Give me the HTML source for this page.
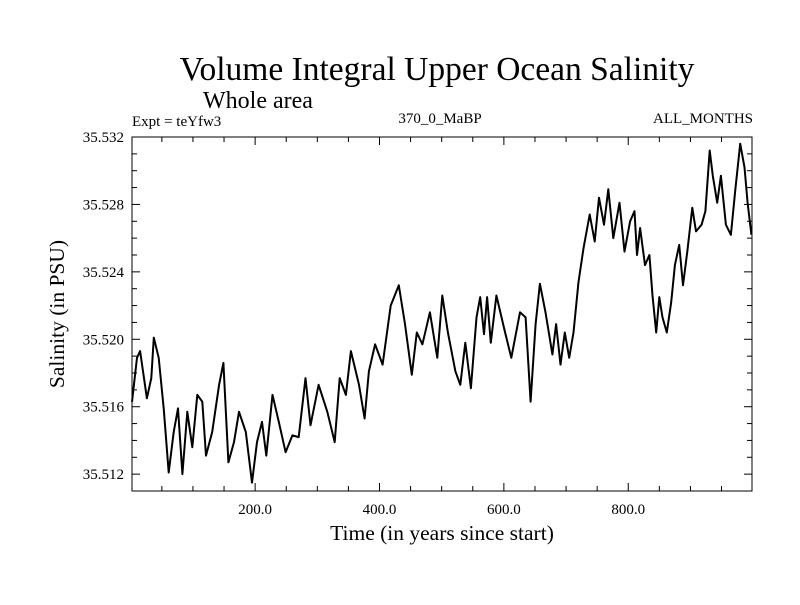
<!DOCTYPE html>
<html><head><meta charset="utf-8"><style>
body{margin:0;background:#fff;}
svg text{font-family:"Liberation Serif",serif;fill:#000;}
</style></head><body>
<svg width="800" height="600" xmlns="http://www.w3.org/2000/svg">
<text x="437" y="80" font-size="33.5" text-anchor="middle">Volume Integral Upper Ocean Salinity</text>
<text x="203" y="108" font-size="24">Whole area</text>
<text x="132" y="126" font-size="15">Expt = teYfw3</text>
<text x="440" y="123" font-size="15" text-anchor="middle">370_0_MaBP</text>
<text x="753" y="123" font-size="15" text-anchor="end">ALL_MONTHS</text>
<text x="442" y="540" font-size="21.5" text-anchor="middle">Time (in years since start)</text>
<text transform="translate(64,314) rotate(-90)" font-size="21.5" text-anchor="middle">Salinity (in PSU)</text>
<g id="axes"></g>
<path id="line" fill="none" stroke="#000" stroke-width="2" stroke-linejoin="round"></path>
<rect x="132" y="137" width="620" height="354" fill="none" stroke="#000" stroke-width="1"></rect>
</svg>
<script>
const years=[2,10,15,26,33,37,45,53,61,69,76,83,91,99,107,115,121,131,142,149,157,166,174,185,195,203,211,218,228,238,249,260,270,281,289,302,316,328,336,346,354,367,376,383,393,405,418,431,441,452,460,469,481,493,501,510,522,530,538,547,556,562,568,573,579,588,600,612,626,635,643,651,658,667,678,684,691,698,705,712,720,728,738,746,753,761,768,776,786,794,803,810,814,819,827,834,839,845,850,855,862,869,875,882,888,895,903,909,918,924,931,936,943,949,957,965,972,980,987,992,998];
const salinity=[35.5163,35.5189,35.5193,35.5165,35.5177,35.5201,35.5189,35.5159,35.5121,35.5145,35.5159,35.5120,35.5157,35.5136,35.5167,35.5163,35.5131,35.5145,35.5173,35.5186,35.5127,35.5139,35.5157,35.5145,35.5115,35.5139,35.5151,35.5131,35.5167,35.5151,35.5133,35.5143,35.5142,35.5177,35.5149,35.5173,35.5157,35.5139,35.5177,35.5167,35.5193,35.5173,35.5153,35.5181,35.5197,35.5185,35.5220,35.5232,35.5209,35.5179,35.5204,35.5197,35.5216,35.5189,35.5226,35.5204,35.5181,35.5173,35.5198,35.5171,35.5213,35.5225,35.5203,35.5225,35.5198,35.5226,35.5207,35.5189,35.5216,35.5213,35.5163,35.5209,35.5233,35.5216,35.5191,35.5209,35.5185,35.5204,35.5189,35.5204,35.5234,35.5254,35.5274,35.5258,35.5284,35.5268,35.5289,35.5260,35.5281,35.5252,35.5270,35.5276,35.5250,35.5266,35.5244,35.5250,35.5226,35.5204,35.5225,35.5213,35.5204,35.5222,35.5244,35.5256,35.5232,35.5252,35.5278,35.5264,35.5268,35.5276,35.5312,35.5297,35.5281,35.5297,35.5268,35.5262,35.5288,35.5316,35.5302,35.5281,35.5262];
const xTicks=[200,400,600,800];
const xTickLabels=["200.0","400.0","600.0","800.0"];
const yTicks=[35.512,35.516,35.520,35.524,35.528,35.532];
const yTickLabels=["35.512","35.516","35.520","35.524","35.528","35.532"];
const X0=132,X1=752,Y0=491,Y1=137;
const xMin=2,xMax=999,yMin=35.511,yMax=35.532;
function sx(v){return X0+(v-xMin)/(xMax-xMin)*(X1-X0);}
function sy(v){return Y0-(v-yMin)/(yMax-yMin)*(Y0-Y1);}
const NS="http://www.w3.org/2000/svg";
const ax=document.getElementById('axes');
function ln(x1,y1,x2,y2,name){const l=document.createElementNS(NS,'line');l.setAttribute('x1',x1);l.setAttribute('y1',y1);l.setAttribute('x2',x2);l.setAttribute('y2',y2);l.setAttribute('stroke','#000');l.setAttribute('stroke-width','1');


ax.appendChild(l);}
function tx(x,y,s,anchor,name){const t=document.createElementNS(NS,'text');t.setAttribute('x',x);t.setAttribute('y',y);t.setAttribute('font-size','15');t.setAttribute('text-anchor',anchor);t.textContent=s;


ax.appendChild(t);}
for(let v=50;v<xMax;v+=50){const x=sx(v);const major=v%200===0;const L=major?8:5;ln(x,Y0,x,Y0-L,'x-tick');ln(x,Y1,x,Y1+L,'x-tick-top');}
xTicks.forEach((v,i)=>tx(sx(v),514,xTickLabels[i],'middle','x-tick-label'));
for(let k=0;k<=21;k++){const v=yMin+k*0.001;if(v>yMax+1e-9)break;const y=sy(v);const major=yTicks.some(t=>Math.abs(t-v)<1e-7);const L=major?8:5;ln(X0,y,X0+L,y,'y-tick');ln(X1,y,X1-L,y,'y-tick-right');}
yTicks.forEach((v,i)=>tx(124,sy(v)+5,yTickLabels[i],'end','y-tick-label'));
let d='';years.forEach((yr,i)=>{d+=(i?'L':'M')+sx(yr).toFixed(1)+','+sy(salinity[i]).toFixed(1);});
document.getElementById('line').setAttribute('d',d);
</script>
</body></html>
